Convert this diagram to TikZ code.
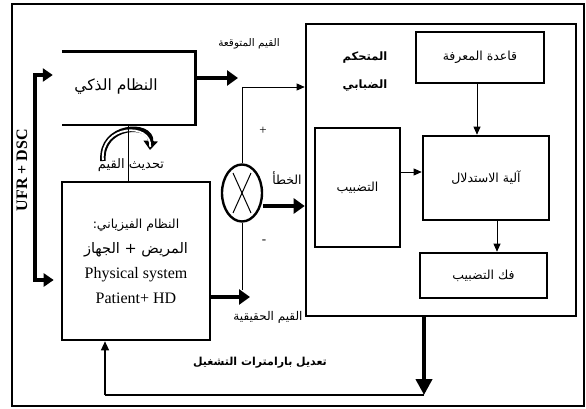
\documentclass[tikz,border=0pt]{standalone}
\usepackage{fontspec}
\setmainfont{Liberation Serif}
\newfontfamily\arabicfont[Script=Arabic]{DejaVu Sans}
\TeXXeTstate=1
\usetikzlibrary{arrows.meta,shapes.geometric,calc}
\newcommand{\artxt}[1]{{\arabicfont\beginR #1\endR}}
\begin{document}
\begin{tikzpicture}[x=1pt,y=-1pt,
  box/.style={draw,line width=2.6pt,inner sep=0pt},
  thinarr/.style={line width=0.8pt,-{Triangle[length=8pt,width=7pt]}},
  fatarr/.style={line width=4.5pt,-{Triangle[length=11pt,width=15pt]}},
  lbl/.style={inner sep=1pt,font=\fontsize{11}{13}\selectfont},
  boxtxt/.style={font=\fontsize{12.5}{15}\selectfont}]
\useasboundingbox (0,0) rectangle (586,409);
\draw[line width=1.4pt] (12,4) rectangle (584,406);

% smart system (open on the left)
\node[inner sep=0pt,minimum width=133pt,minimum height=73pt] (smart) at (128.5,88.5) {};
\draw[line width=2.6pt] (smart.north west) -- (smart.north east) -- (smart.south east) -- (smart.south west);
\node[font=\fontsize{15.5}{18}\selectfont] (smartt) at (116,87) {\artxt{النظام الذكي}};

% physical system
\node[box,minimum width=148pt,minimum height=158pt,align=center,font=\fontsize{16}{25}\selectfont] (phys) at (136,261)
  {{\fontsize{12.5}{25}\selectfont\artxt{النظام الفيزياني:}}\\
   {\fontsize{14.5}{25}\selectfont\artxt{المريض + الجهاز}}\\
   Physical system\\Patient+ HD};

% fuzzy controller
\node[box,minimum width=270pt,minimum height=292pt] (fz) at (441,170) {};
\node[align=center,font=\bfseries\fontsize{11.5}{28}\selectfont] (fzl) at (365,72) {\artxt{المتحكم}\\\artxt{الضبابي}};
\node[box,minimum width=128pt,minimum height=51pt,boxtxt] (kb) at (480,57.5) {\artxt{قاعدة المعرفة}};
\node[box,minimum width=126pt,minimum height=84pt,boxtxt] (inf) at (486,178) {\artxt{آلية الاستدلال}};
\node[box,minimum width=85pt,minimum height=119pt,boxtxt] (fuz) at (357.5,187.5) {\artxt{التضبيب}};
\node[box,minimum width=127pt,minimum height=45pt,boxtxt] (dfz) at (483.5,275.5) {\artxt{فك التضبيب}};

\draw[thinarr] (kb.south -| 477,0) -- (inf.north -| 477,0);
\draw[thinarr] ($(inf.south)+(11,0)$) -- (dfz.north -| 497,0);
\draw[thinarr] (fuz.east |- 0,172) -- (inf.west |- 0,172);

% summing junction
\node[draw,ellipse,line width=2.4pt,minimum width=40pt,minimum height=57pt,inner sep=0pt] (sum) at (242,193) {};
\draw[line width=1pt] ($(sum)+(-9,-20)$) -- ($(sum)+(9,20)$);
\draw[line width=1pt] ($(sum)+(9,-20)$) -- ($(sum)+(-9,20)$);
\coordinate (j1) at (242,87);
\coordinate (j2) at (242,290);
\draw[line width=0.8pt] (j1) -- (sum.north);
\draw[line width=0.8pt] (sum.south) -- (j2);
\draw[thinarr] (j1) -- (fz.west |- j1);

\draw[fatarr] (smart.east |- 0,78) -- ($(j1)+(-4,-9)$);
\draw[fatarr] (sum.east |- 0,206) -- (fz.west |- 0,206);
\draw[fatarr] (phys.east |- 0,297) -- ($(j2)+(8,7)$);

% update arc
\draw[line width=5.5pt,-{Triangle[length=9pt,width=14pt]}] (103,161) .. controls (100,124) and (152,122) .. (150,150);
\draw[white,line width=1.8pt,shorten >=3pt,shorten <=1pt] (103,161) .. controls (100,124) and (152,122) .. (150,150);
\draw[line width=1.4pt] (smart.south) -- (phys.north -| smart.south);

% UFR + DSC
\coordinate (u1) at (35,75);
\coordinate (u2) at (35,280);
\draw[line width=4pt,{Triangle[length=10pt,width=13pt]}-{Triangle[length=10pt,width=13pt]},shorten <=9pt,shorten >=7pt] (smart.west |- u1) -- (u1) -- (u2) -- (phys.west |- u2);
\node[rotate=90,font=\bfseries\fontsize{16}{18}\selectfont] (ufr) at (22,170) {UFR + DSC};

% output feedback
\coordinate (o1) at (424,395);
\coordinate (o2) at (105,395);
\draw[line width=4.5pt,-{Triangle[length=16pt,width=16pt]}] (fz.south -| o1) -- (o1);
\draw[line width=2.5pt] (o1) -- (o2);
\draw[line width=1.2pt,-{Triangle[length=9pt,width=8pt]}] (o2) -- (phys.south -| o2);

% labels
\node[lbl,font=\fontsize{10.5}{13}\selectfont] (lexp) at (249,44) {\artxt{القيم المتوقعة}};
\node[lbl,font=\fontsize{13}{15}\selectfont] (lupd) at (131,165) {\artxt{تحديث القيم}};
\node[lbl,font=\fontsize{13}{13}\selectfont] (lplus) at (263,131) {+};
\node[lbl,font=\fontsize{13}{13}\selectfont] (lminus) at (264,242) {-};
\node[lbl,font=\fontsize{12.5}{15}\selectfont] (lerr) at (287,178) {\artxt{الخطأ}};
\node[lbl,font=\fontsize{12}{14}\selectfont] (lact) at (268,317) {\artxt{القيم الحقيقية}};
\node[lbl,font=\bfseries\fontsize{11}{14}\selectfont] (lmod) at (260,363) {\artxt{تعديل بارامترات التشغيل}};
\end{tikzpicture}
\end{document}
